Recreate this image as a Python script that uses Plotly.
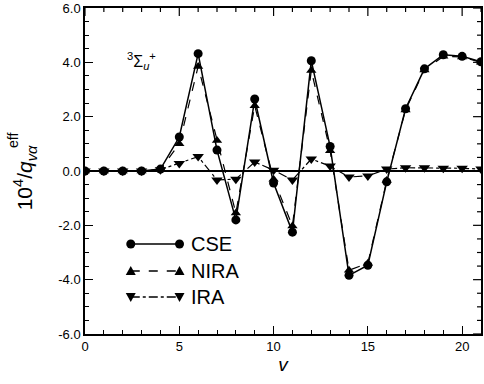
import plotly.graph_objects as go

v = list(range(22))
cse = [0, 0, 0, 0, 0.07, 1.25, 4.32, 0.77, -1.8, 2.65, -0.44, -2.25, 4.06, 0.9,
       -3.84, -3.47, -0.4, 2.29, 3.76, 4.28, 4.22, 4.02]
nira = [0, 0, 0, 0, 0.05, 1.0, 3.85, 1.12, -1.55, 2.4, -0.3, -2.02, 3.7, 0.75,
        -3.65, -3.4, -0.35, 2.25, 3.72, 4.22, 4.2, 4.0]
ira = [0, 0, 0, 0, 0.05, 0.28, 0.53, -0.33, -0.3, 0.33, 0.03, -0.33, 0.44, 0.18,
       -0.22, -0.18, 0.07, 0.12, 0.12, 0.1, 0.1, 0.07]

yticks = [-6, -4, -2, 0, 2, 4, 6]
ytext = ["-6.0", "-4.0", "-2.0", "0.0", "2.0", "4.0", "6.0"]
xticks = [0, 5, 10, 15, 20]
x_minor = list(range(0, 22))
y_minor = [i * 0.5 for i in range(-12, 13)]

series_names = ["CSE", "NIRA", "IRA"]
dashes = ["solid", "dash", "dashdot"]
symbols = ["circle", "triangle-up", "triangle-down"]
widths = [1.5, 1.2, 1.2]
sizes = [9, 9, 10]

fig = go.Figure()
for name, ys, d, s, w, sz in zip(series_names, [cse, nira, ira], dashes, symbols, widths, sizes):
    fig.add_trace(go.Scatter(x=v, y=ys, name=name, mode="lines+markers",
                             line=dict(color="black", width=w, dash=d),
                             marker=dict(symbol=s, size=sz, color="black"),
                             showlegend=False))

font = "Liberation Sans, Arial, Helvetica, sans-serif"
common = dict(ticks="inside", ticklen=8, tickwidth=1.2, tickcolor="black", showgrid=False,
              showline=True, linecolor="black", linewidth=1.5, mirror=True)
fig.update_layout(
    width=484, height=384,
    margin=dict(l=85, r=1, t=8, b=50),
    paper_bgcolor="white", plot_bgcolor="white",
    font=dict(family=font, color="black", size=13),
    showlegend=False,
    xaxis=dict(range=[0, 21], tickvals=xticks, zeroline=False,
               minor=dict(dtick=1, ticks="inside", ticklen=4, tickwidth=1,
                          tickcolor="black", showgrid=False),
               title=dict(text="<i>v</i>", font=dict(size=19), standoff=2),
               tickfont=dict(size=13), **common),
    yaxis=dict(range=[-6, 6], tickvals=yticks, ticktext=ytext,
               zeroline=True, zerolinecolor="black", zerolinewidth=1.5,
               minor=dict(dtick=0.5, ticks="inside", ticklen=4, tickwidth=1,
                          tickcolor="black", showgrid=False),
               tickfont=dict(size=13), **common),
)

annotations = [
    dict(x=3.0, y=4.05, xref="x", yref="y",
         text="<sup>3</sup>\u03a3<sub><i>u</i></sub><sup>+</sup>",
         showarrow=False, font=dict(size=16)),
    dict(x=-0.152, y=0.48, xref="paper", yref="paper", textangle=-90,
         text="10<sup>4</sup>/<i>q</i><sub><i>v\u03b1</i></sub>",
         showarrow=False, font=dict(size=21), xanchor="center", yanchor="middle"),
    dict(x=-0.182, y=0.595, xref="paper", yref="paper", textangle=-90,
         text="eff", showarrow=False, font=dict(size=14),
         xanchor="center", yanchor="middle"),
]

shapes = []
# mirrored ticks on top and right edges (positions derived from tick lists)
for t in x_minor:
    ln = 8 if t in xticks else 4
    frac = t / 21.0
    shapes.append(dict(type="line", xref="paper", yref="paper",
                       x0=frac, x1=frac, y0=1.0, y1=1.0 - ln / 326.0,
                       line=dict(color="black", width=1.2)))
for t in y_minor:
    ln = 8 if t in yticks else 4
    frac = (t + 6) / 12.0
    shapes.append(dict(type="line", xref="paper", yref="paper",
                       x0=1.0, x1=1.0 - ln / 398.0, y0=frac, y1=frac,
                       line=dict(color="black", width=1.2)))

# custom legend (line sample with markers at both ends)
def px2paper_x(px):
    return (px - 85) / 398.0

def px2paper_y(py):
    return (334 - py) / 326.0

legend_rows = [244, 271, 297]
tri_up = "M -5 -4 L 5 -4 L 0 5 Z"
tri_dn = "M -5 4 L 5 4 L 0 -5 Z"
for name, d, s, row in zip(series_names, dashes, symbols, legend_rows):
    yy = px2paper_y(row)
    x0, x1 = px2paper_x(131), px2paper_x(180)
    shapes.append(dict(type="line", xref="paper", yref="paper", x0=x0, x1=x1, y0=yy, y1=yy,
                       line=dict(color="black", width=1.3, dash=d)))
    for xx in (x0, x1):
        if s == "circle":
            shapes.append(dict(type="circle", xref="paper", yref="paper",
                               xsizemode="pixel", ysizemode="pixel", xanchor=xx, yanchor=yy,
                               x0=-4.5, x1=4.5, y0=-4.5, y1=4.5,
                               fillcolor="black", line=dict(color="black", width=0)))
        else:
            shapes.append(dict(type="path", xref="paper", yref="paper",
                               xsizemode="pixel", ysizemode="pixel", xanchor=xx, yanchor=yy,
                               path=tri_up if s == "triangle-up" else tri_dn,
                               fillcolor="black", line=dict(color="black", width=0)))
    annotations.append(dict(x=px2paper_x(190), y=yy, xref="paper", yref="paper",
                            text=name, showarrow=False, xanchor="left", yanchor="middle",
                            font=dict(size=20)))

fig.update_layout(annotations=annotations, shapes=shapes)
fig.write_html("out.html")
